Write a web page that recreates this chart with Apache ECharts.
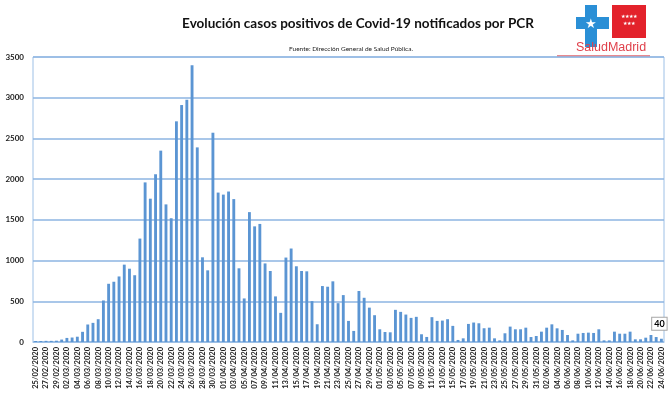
<!DOCTYPE html>
<html>
<head>
<meta charset="utf-8">
<script src="https://cdn.jsdelivr.net/npm/echarts@6/dist/echarts.min.js"></script>
<style>
  html, body { margin: 0; padding: 0; background: #fff; }
  #chart { width: 670px; height: 397px; }
</style>
</head>
<body>
<div id="chart"></div>
<script>
// fechas: del 25/02/2020 al 24/06/2020, un valor por día
var fechas = [
  '25/02/2020','26/02/2020','27/02/2020','28/02/2020','29/02/2020',
  '01/03/2020','02/03/2020','03/03/2020','04/03/2020','05/03/2020','06/03/2020','07/03/2020','08/03/2020','09/03/2020','10/03/2020',
  '11/03/2020','12/03/2020','13/03/2020','14/03/2020','15/03/2020','16/03/2020','17/03/2020','18/03/2020','19/03/2020','20/03/2020',
  '21/03/2020','22/03/2020','23/03/2020','24/03/2020','25/03/2020','26/03/2020','27/03/2020','28/03/2020','29/03/2020','30/03/2020','31/03/2020',
  '01/04/2020','02/04/2020','03/04/2020','04/04/2020','05/04/2020','06/04/2020','07/04/2020','08/04/2020','09/04/2020','10/04/2020',
  '11/04/2020','12/04/2020','13/04/2020','14/04/2020','15/04/2020','16/04/2020','17/04/2020','18/04/2020','19/04/2020','20/04/2020',
  '21/04/2020','22/04/2020','23/04/2020','24/04/2020','25/04/2020','26/04/2020','27/04/2020','28/04/2020','29/04/2020','30/04/2020',
  '01/05/2020','02/05/2020','03/05/2020','04/05/2020','05/05/2020','06/05/2020','07/05/2020','08/05/2020','09/05/2020','10/05/2020',
  '11/05/2020','12/05/2020','13/05/2020','14/05/2020','15/05/2020','16/05/2020','17/05/2020','18/05/2020','19/05/2020','20/05/2020',
  '21/05/2020','22/05/2020','23/05/2020','24/05/2020','25/05/2020','26/05/2020','27/05/2020','28/05/2020','29/05/2020','30/05/2020','31/05/2020',
  '01/06/2020','02/06/2020','03/06/2020','04/06/2020','05/06/2020','06/06/2020','07/06/2020','08/06/2020','09/06/2020','10/06/2020',
  '11/06/2020','12/06/2020','13/06/2020','14/06/2020','15/06/2020','16/06/2020','17/06/2020','18/06/2020','19/06/2020','20/06/2020',
  '21/06/2020','22/06/2020','23/06/2020','24/06/2020'
];
// casos positivos por PCR
var casos = [
  12, 12, 14, 14, 16,
  30, 50, 55, 65, 125, 215, 235, 280, 510, 715,
  740, 805, 950, 900, 820, 1270, 1960, 1760, 2060, 2350,
  1690, 1520, 2710, 2910, 2975, 3400, 2390, 1040, 880, 2570, 1835,
  1810, 1848, 1755, 905, 535, 1595, 1420, 1450, 965, 872,
  560, 358, 1037, 1148, 930, 872, 868, 502, 218, 687,
  679, 745, 477, 576, 259, 136, 626, 543, 422, 329,
  156, 123, 119, 395, 370, 337, 296, 309, 95, 62,
  305, 259, 263, 280, 198, 25, 45, 222, 239, 230,
  169, 176, 45, 20, 107, 189, 156, 156, 176, 61, 74,
  127, 176, 217, 168, 148, 86, 20, 102, 111, 115,
  111, 156, 20, 20, 127, 102, 102, 127, 33, 33,
  53, 86, 61, 40
];
var ticksY = [0, 500, 1000, 1500, 2000, 2500, 3000, 3500];

var myChart = echarts.init(document.getElementById('chart'));

// último valor con su etiqueta
var datos = casos.map(function (v, i) {
  if (i === casos.length - 1) {
    return {
      value: v,
      label: {
        show: true,
        position: 'top',
        distance: 9,
        offset: [-2, 0],
        color: '#000',
        fontWeight: 'bold',
        fontSize: 9,
        fontFamily: 'Lato',
        backgroundColor: '#fff',
        borderColor: '#a6a6a6',
        borderWidth: 1,
        padding: [2, 2, 1, 2]
      }
    };
  }
  return v;
});

var option = {
  animation: false,
  backgroundColor: '#fff',
  title: [
    {
      text: 'Evolución casos positivos de Covid-19 notificados por PCR',
      left: 353, top: 12, textAlign: 'center',
      textStyle: { fontFamily: 'Lato', fontWeight: 'bold', fontSize: 13.5, color: '#111' }
    },
    {
      text: 'Fuente: Dirección General de Salud Pública.',
      left: 346, top: 40, textAlign: 'center',
      textStyle: { fontFamily: 'Lato', fontWeight: 'normal', fontSize: 6.5, color: '#222' }
    }
  ],
  grid: {
    left: 33, right: 6, top: 57, bottom: 55,
    show: true, borderColor: '#9dc0e6', borderWidth: 1
  },
  xAxis: {
    type: 'category',
    data: fechas,
    axisTick: { show: false },
    axisLine: { show: true, lineStyle: { color: '#9dc0e6' } },
    axisLabel: {
      interval: 1,
      rotate: 90,
      fontSize: 7.5,
      fontWeight: 'bold',
      fontFamily: 'Lato',
      color: '#222',
      margin: 5
    },
    splitLine: { show: false }
  },
  yAxis: {
    type: 'value',
    min: ticksY[0],
    max: ticksY[ticksY.length - 1],
    interval: 500,
    axisLine: { show: false },
    axisTick: { show: false },
    axisLabel: {
      fontSize: 8, fontWeight: 'bold', fontFamily: 'Lato', color: '#222', margin: 9,
      formatter: function (v) { return String(v); }
    },
    splitLine: { lineStyle: { color: '#8db4e2', width: 1.5 } }
  },
  series: [
    {
      type: 'bar',
      data: datos,
      barCategoryGap: '45%',
      itemStyle: { color: '#5b95d3' }
    }
  ],
  graphic: [
    // logo SaludMadrid
    { type: 'rect', shape: { x: 612, y: 5, width: 34, height: 33 }, style: { fill: '#e3222b' } },
    { type: 'text', style: { x: 629, y: 14, text: '★★★★', fill: '#fff', fontSize: 5, textAlign: 'center' } },
    { type: 'text', style: { x: 629, y: 21, text: '★★★', fill: '#fff', fontSize: 5, textAlign: 'center' } },
    { type: 'polygon', shape: { points: [[585, 5], [597, 5], [597, 17], [609, 17], [609, 29], [597, 29], [597, 47], [585, 47], [585, 29], [576, 29], [576, 17], [585, 17]] }, style: { fill: '#2a8fd6' } },
    { type: 'text', style: { x: 591, y: 18, text: '★', fill: '#fff', fontSize: 13, textAlign: 'center' } },
    { type: 'text', style: { x: 611, y: 41, text: 'SaludMadrid', fill: '#e0414b', fontSize: 12.5, fontFamily: 'Liberation Sans', textAlign: 'center' } },
    { type: 'rect', shape: { x: 557, y: 55, width: 93, height: 2 }, style: { fill: '#e88a8f' } }
  ]
};
myChart.setOption(option);
</script>
</body>
</html>
